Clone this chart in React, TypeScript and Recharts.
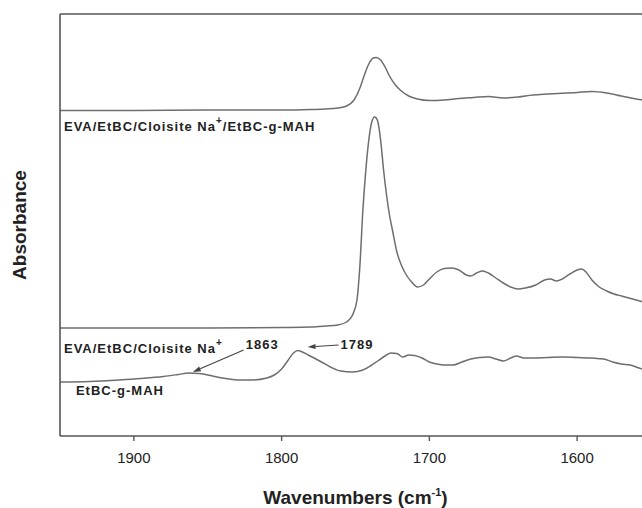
import { LineChart, Line, XAxis, YAxis, ReferenceLine, ReferenceDot } from "recharts";

const FONT = '"Liberation Sans", Arial, Helvetica, sans-serif';
const INK = "#222";
const AXIS = "#555";
const TRACE = "#6e6e6e";

const X_DOMAIN: [number, number] = [1550, 1950];
const Y_DOMAIN: [number, number] = [0, 4.22];
const X_TICKS = [1900, 1800, 1700, 1600];

// EVA/EtBC/Cloisite Na+/EtBC-g-MAH (offset trace, top)
const hybridWn = [
  1950, 1900, 1850, 1800, 1780, 1770, 1762, 1756, 1751, 1747, 1744, 1741, 1738, 1736,
  1733, 1730, 1727, 1723, 1719, 1714, 1708, 1700, 1690, 1680, 1670, 1660, 1650, 1640,
  1630, 1620, 1600, 1590, 1580, 1570, 1560, 1550,
];
const hybridAbs = [
  3.255, 3.255, 3.26, 3.26, 3.265, 3.27, 3.28, 3.3, 3.36, 3.48, 3.61, 3.72, 3.78, 3.785,
  3.76, 3.69, 3.6, 3.51, 3.45, 3.4, 3.37, 3.355, 3.36, 3.375, 3.385, 3.395, 3.38, 3.39,
  3.41, 3.42, 3.435, 3.445, 3.43, 3.4, 3.37, 3.35,
];

// EVA/EtBC/Cloisite Na+ (middle)
const naWn = [
  1950, 1900, 1850, 1800, 1780, 1770, 1762, 1756, 1752, 1749, 1747, 1745, 1743, 1741,
  1739, 1737, 1735, 1733, 1731, 1729, 1727, 1725, 1722, 1719, 1716, 1712, 1708, 1704,
  1700, 1695, 1690, 1685, 1680, 1675, 1672, 1668, 1664, 1660, 1655, 1650, 1645, 1640,
  1635, 1628, 1622, 1618, 1614, 1610, 1605, 1600, 1597, 1594, 1590, 1585, 1580, 1575,
  1570, 1565, 1560, 1555, 1550,
];
const naAbs = [
  1.08, 1.08, 1.08, 1.085, 1.09, 1.1, 1.11, 1.14, 1.21, 1.36, 1.71, 2.26, 2.66, 2.96,
  3.14, 3.19, 3.15, 2.96, 2.66, 2.41, 2.21, 2.06, 1.84, 1.71, 1.62, 1.54, 1.49, 1.51,
  1.57, 1.64, 1.675, 1.68, 1.66, 1.61, 1.6, 1.63, 1.65, 1.63, 1.58, 1.53, 1.49, 1.47,
  1.48, 1.51, 1.56, 1.57, 1.55, 1.57, 1.62, 1.66, 1.67, 1.64, 1.56, 1.49, 1.45, 1.42,
  1.4, 1.38, 1.36, 1.34, 1.33,
];

// EtBC-g-MAH (bottom)
const mahWn = [
  1950, 1930, 1910, 1895, 1880, 1870, 1863, 1856, 1850, 1840, 1830, 1820, 1810, 1805,
  1800, 1796, 1792, 1789, 1786, 1782, 1778, 1773, 1767, 1760, 1752, 1745, 1740, 1735,
  1730, 1726, 1722, 1718, 1714, 1710, 1705, 1700, 1695, 1690, 1684, 1678, 1672, 1666,
  1660, 1655, 1650, 1645, 1641, 1636, 1630, 1620, 1610, 1600, 1590, 1582, 1576, 1570,
  1564, 1558, 1552, 1550,
];
const mahAbs = [
  0.54, 0.545, 0.56, 0.575, 0.595, 0.615, 0.63, 0.625, 0.61, 0.58, 0.56, 0.56, 0.58, 0.61,
  0.67, 0.75, 0.83, 0.855, 0.84, 0.81, 0.78, 0.74, 0.69, 0.65, 0.64, 0.66, 0.7, 0.75,
  0.8, 0.83, 0.825, 0.79, 0.81, 0.805, 0.78, 0.74, 0.72, 0.71, 0.71, 0.74, 0.77, 0.785,
  0.79, 0.77, 0.75, 0.78, 0.8, 0.78, 0.78, 0.785, 0.79, 0.785, 0.78, 0.77, 0.74, 0.72,
  0.71, 0.68, 0.65, 0.64,
];

// trace captions: [wavenumber, absorbance] of the text start/baseline
const captionText = ["EVA/EtBC/Cloisite Na", "EVA/EtBC/Cloisite Na", "EtBC-g-MAH", "1863", "1789"];
const captionSup = ["+", "+", "", "", ""];
const captionTail = ["/EtBC-g-MAH", "", "", "", ""];
const captionAt: [number, number][] = [
  [1947.3, 3.05],
  [1947.3, 0.83],
  [1939.2, 0.41],
  [1824.3, 0.87],
  [1760.1, 0.87],
];

// arrows from the peak labels to the bands
const arrowFrom: [number, number][] = [
  [1825.7, 0.86],
  [1761.5, 0.91],
];
const arrowTo: [number, number][] = [
  [1860.1, 0.64],
  [1782.4, 0.89],
];

const zip = (w: number[], a: number[]) => w.map((x, i) => ({ w: x, a: a[i] }));

const series = [zip(hybridWn, hybridAbs), zip(naWn, naAbs), zip(mahWn, mahAbs)];

function Arrow(props: any) {
  const { x1, y1, x2, y2 } = props;
  const ang = Math.atan2(y2 - y1, x2 - x1);
  const c = Math.cos(ang);
  const s = Math.sin(ang);
  const len = 8;
  const half = 2.6;
  const bx = x2 - len * c;
  const by = y2 - len * s;
  const pts = `${x2},${y2} ${bx - half * s},${by + half * c} ${bx + half * s},${by - half * c}`;
  return (
    <g>
      <line x1={x1} y1={y1} x2={bx} y2={by} stroke="#444" strokeWidth={1.2} />
      <polygon points={pts} fill="#444" />
    </g>
  );
}

function captionShape(i: number) {
  return (p: any) => (
    <text
      x={p.cx}
      y={p.cy}
      fontFamily={FONT}
      fontSize={13}
      fontWeight="bold"
      letterSpacing={1}
      fill={INK}
    >
      {captionText[i]}
      {captionSup[i] && (
        <tspan dy={-7} fontSize={10}>
          {captionSup[i]}
        </tspan>
      )}
      {captionTail[i] && <tspan dy={7}>{captionTail[i]}</tspan>}
    </text>
  );
}

function XTitle({ viewBox }: any) {
  const cx = viewBox.x + viewBox.width / 2;
  const y = viewBox.y + 68;
  return (
    <text x={cx} y={y} textAnchor="middle" fontFamily={FONT} fontSize={19} fontWeight="bold" fill={INK}>
      Wavenumbers (cm
      <tspan dy={-8} fontSize={11}>
        -1
      </tspan>
      <tspan dy={8}>)</tspan>
    </text>
  );
}

function YTitle({ viewBox }: any) {
  const x = 26;
  const y = viewBox.y + viewBox.height / 2;
  return (
    <text
      x={x}
      y={y}
      transform={`rotate(-90, ${x}, ${y})`}
      textAnchor="middle"
      fontFamily={FONT}
      fontSize={19}
      fontWeight="bold"
      fill={INK}
    >
      Absorbance
    </text>
  );
}

export default function App() {
  return (
    <div
      style={{
        position: "fixed",
        left: 0,
        top: 0,
        width: 642,
        height: 508,
        overflow: "hidden",
        background: "#fff",
      }}
    >
      <LineChart width={670} height={508} margin={{ top: 14, right: 19, bottom: 0, left: 0 }}>
        <XAxis
          dataKey="w"
          type="number"
          domain={X_DOMAIN}
          reversed
          ticks={X_TICKS}
          allowDataOverflow
          height={72}
          tickSize={5}
          tickMargin={11}
          axisLine={{ stroke: AXIS, strokeWidth: 1.6 }}
          tickLine={{ stroke: AXIS, strokeWidth: 1.4 }}
          tick={{ fill: INK, fontSize: 15, fontFamily: FONT }}
          label={<XTitle />}
        />
        <YAxis
          type="number"
          domain={Y_DOMAIN}
          allowDataOverflow
          width={60}
          tick={false}
          tickLine={false}
          axisLine={{ stroke: AXIS, strokeWidth: 1.6 }}
          label={<YTitle />}
        />
        <ReferenceLine y={Y_DOMAIN[1]} stroke={AXIS} strokeWidth={1.6} />
        {series.map((d, i) => (
          <Line
            key={i}
            data={d}
            dataKey="a"
            type="monotone"
            stroke={TRACE}
            strokeWidth={1.5}
            dot={false}
            activeDot={false}
            isAnimationActive={false}
          />
        ))}
        {arrowFrom.map((f, i) => (
          <ReferenceLine
            key={`arrow-${i}`}
            segment={[
              { x: f[0], y: f[1] },
              { x: arrowTo[i][0], y: arrowTo[i][1] },
            ]}
            shape={Arrow}
          />
        ))}
        {captionAt.map((c, i) => (
          <ReferenceDot
            key={`cap-${i}`}
            x={c[0]}
            y={c[1]}
            r={0}
            ifOverflow="visible"
            shape={captionShape(i)}
          />
        ))}
      </LineChart>
    </div>
  );
}
